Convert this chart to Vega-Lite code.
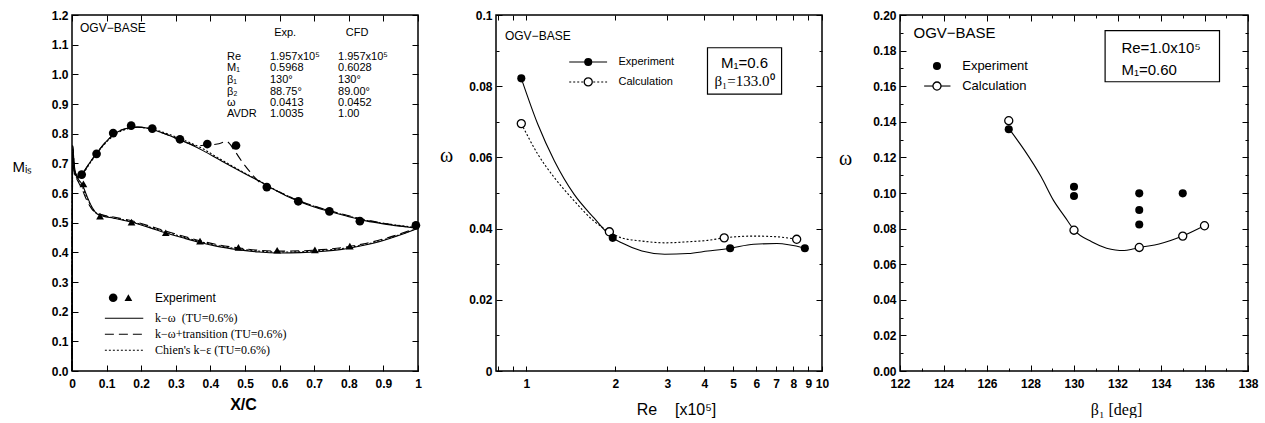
{
 "$schema": "https://vega.github.io/schema/vega-lite/v6.json",
 "padding": {"left": 11, "top": 8, "right": 0, "bottom": 0},
 "background": "white",
 "config": {
  "view": {"stroke": "black", "strokeWidth": 1.5},
  "axis": {"domain": false, "grid": false, "labelFont": "Liberation Sans", "labelFontWeight": "bold", "labelFontSize": 12, "labelColor": "black", "tickColor": "black", "tickWidth": 1, "titleColor": "black", "titleFont": "Liberation Sans", "labelFlush": false, "labelOverlap": false},
  "text": {"font": "Liberation Sans", "color": "black"}
 },
 "datasets": {
  "p1_cfd": [
   {"model":"kw","side":"S","x":0,"m":0},{"model":"kw","side":"S","x":0.002,"m":0.76},{"model":"kw","side":"S","x":0.006,"m":0.70},{"model":"kw","side":"S","x":0.012,"m":0.662},{"model":"kw","side":"S","x":0.02,"m":0.652},{"model":"kw","side":"S","x":0.03,"m":0.665},{"model":"kw","side":"S","x":0.05,"m":0.70},{"model":"kw","side":"S","x":0.07,"m":0.732},{"model":"kw","side":"S","x":0.1,"m":0.775},{"model":"kw","side":"S","x":0.13,"m":0.805},{"model":"kw","side":"S","x":0.16,"m":0.818},{"model":"kw","side":"S","x":0.19,"m":0.822},{"model":"kw","side":"S","x":0.22,"m":0.818},{"model":"kw","side":"S","x":0.26,"m":0.803},{"model":"kw","side":"S","x":0.3,"m":0.785},{"model":"kw","side":"S","x":0.34,"m":0.765},{"model":"kw","side":"S","x":0.38,"m":0.742},{"model":"kw","side":"S","x":0.42,"m":0.716},{"model":"kw","side":"S","x":0.46,"m":0.69},{"model":"kw","side":"S","x":0.5,"m":0.665},{"model":"kw","side":"S","x":0.54,"m":0.641},{"model":"kw","side":"S","x":0.58,"m":0.614},{"model":"kw","side":"S","x":0.62,"m":0.59},{"model":"kw","side":"S","x":0.66,"m":0.57},{"model":"kw","side":"S","x":0.7,"m":0.553},{"model":"kw","side":"S","x":0.75,"m":0.536},{"model":"kw","side":"S","x":0.8,"m":0.52},{"model":"kw","side":"S","x":0.85,"m":0.506},{"model":"kw","side":"S","x":0.9,"m":0.496},{"model":"kw","side":"S","x":0.95,"m":0.488},{"model":"kw","side":"S","x":1.0,"m":0.481},
   {"model":"kwt","side":"S","x":0,"m":0},{"model":"kwt","side":"S","x":0.002,"m":0.76},{"model":"kwt","side":"S","x":0.006,"m":0.70},{"model":"kwt","side":"S","x":0.012,"m":0.662},{"model":"kwt","side":"S","x":0.02,"m":0.652},{"model":"kwt","side":"S","x":0.03,"m":0.665},{"model":"kwt","side":"S","x":0.05,"m":0.70},{"model":"kwt","side":"S","x":0.07,"m":0.732},{"model":"kwt","side":"S","x":0.1,"m":0.775},{"model":"kwt","side":"S","x":0.13,"m":0.805},{"model":"kwt","side":"S","x":0.16,"m":0.818},{"model":"kwt","side":"S","x":0.19,"m":0.822},{"model":"kwt","side":"S","x":0.22,"m":0.818},{"model":"kwt","side":"S","x":0.26,"m":0.803},{"model":"kwt","side":"S","x":0.3,"m":0.785},{"model":"kwt","side":"S","x":0.34,"m":0.766},{"model":"kwt","side":"S","x":0.36,"m":0.759},{"model":"kwt","side":"S","x":0.39,"m":0.762},{"model":"kwt","side":"S","x":0.42,"m":0.765},{"model":"kwt","side":"S","x":0.447,"m":0.773},{"model":"kwt","side":"S","x":0.47,"m":0.742},{"model":"kwt","side":"S","x":0.49,"m":0.708},{"model":"kwt","side":"S","x":0.514,"m":0.672},{"model":"kwt","side":"S","x":0.543,"m":0.635},{"model":"kwt","side":"S","x":0.57,"m":0.618},{"model":"kwt","side":"S","x":0.6,"m":0.603},{"model":"kwt","side":"S","x":0.62,"m":0.592},{"model":"kwt","side":"S","x":0.66,"m":0.572},{"model":"kwt","side":"S","x":0.7,"m":0.556},{"model":"kwt","side":"S","x":0.75,"m":0.539},{"model":"kwt","side":"S","x":0.8,"m":0.523},{"model":"kwt","side":"S","x":0.85,"m":0.509},{"model":"kwt","side":"S","x":0.9,"m":0.498},{"model":"kwt","side":"S","x":0.95,"m":0.489},{"model":"kwt","side":"S","x":1.0,"m":0.482},
   {"model":"chien","side":"S","x":0,"m":0},{"model":"chien","side":"S","x":0.002,"m":0.75},{"model":"chien","side":"S","x":0.006,"m":0.69},{"model":"chien","side":"S","x":0.012,"m":0.658},{"model":"chien","side":"S","x":0.02,"m":0.65},{"model":"chien","side":"S","x":0.03,"m":0.662},{"model":"chien","side":"S","x":0.05,"m":0.697},{"model":"chien","side":"S","x":0.07,"m":0.73},{"model":"chien","side":"S","x":0.1,"m":0.772},{"model":"chien","side":"S","x":0.13,"m":0.802},{"model":"chien","side":"S","x":0.16,"m":0.816},{"model":"chien","side":"S","x":0.19,"m":0.821},{"model":"chien","side":"S","x":0.22,"m":0.818},{"model":"chien","side":"S","x":0.26,"m":0.806},{"model":"chien","side":"S","x":0.3,"m":0.789},{"model":"chien","side":"S","x":0.34,"m":0.77},{"model":"chien","side":"S","x":0.38,"m":0.748},{"model":"chien","side":"S","x":0.42,"m":0.72},{"model":"chien","side":"S","x":0.46,"m":0.693},{"model":"chien","side":"S","x":0.5,"m":0.667},{"model":"chien","side":"S","x":0.54,"m":0.642},{"model":"chien","side":"S","x":0.58,"m":0.615},{"model":"chien","side":"S","x":0.62,"m":0.592},{"model":"chien","side":"S","x":0.66,"m":0.572},{"model":"chien","side":"S","x":0.7,"m":0.555},{"model":"chien","side":"S","x":0.75,"m":0.538},{"model":"chien","side":"S","x":0.8,"m":0.522},{"model":"chien","side":"S","x":0.85,"m":0.508},{"model":"chien","side":"S","x":0.9,"m":0.498},{"model":"chien","side":"S","x":0.95,"m":0.49},{"model":"chien","side":"S","x":1.0,"m":0.483},
   {"model":"kw","side":"P","x":0,"m":0},{"model":"kw","side":"P","x":0.002,"m":0.72},{"model":"kw","side":"P","x":0.008,"m":0.67},{"model":"kw","side":"P","x":0.015,"m":0.652},{"model":"kw","side":"P","x":0.03,"m":0.628},{"model":"kw","side":"P","x":0.043,"m":0.59},{"model":"kw","side":"P","x":0.058,"m":0.552},{"model":"kw","side":"P","x":0.072,"m":0.53},{"model":"kw","side":"P","x":0.09,"m":0.522},{"model":"kw","side":"P","x":0.12,"m":0.515},{"model":"kw","side":"P","x":0.17,"m":0.502},{"model":"kw","side":"P","x":0.22,"m":0.485},{"model":"kw","side":"P","x":0.27,"m":0.466},{"model":"kw","side":"P","x":0.32,"m":0.449},{"model":"kw","side":"P","x":0.37,"m":0.433},{"model":"kw","side":"P","x":0.42,"m":0.42},{"model":"kw","side":"P","x":0.48,"m":0.409},{"model":"kw","side":"P","x":0.54,"m":0.401},{"model":"kw","side":"P","x":0.6,"m":0.398},{"model":"kw","side":"P","x":0.66,"m":0.399},{"model":"kw","side":"P","x":0.72,"m":0.403},{"model":"kw","side":"P","x":0.78,"m":0.41},{"model":"kw","side":"P","x":0.84,"m":0.423},{"model":"kw","side":"P","x":0.9,"m":0.44},{"model":"kw","side":"P","x":0.94,"m":0.455},{"model":"kw","side":"P","x":0.98,"m":0.472},{"model":"kw","side":"P","x":1.0,"m":0.481},
   {"model":"kwt","side":"P","x":0,"m":0},{"model":"kwt","side":"P","x":0.002,"m":0.70},{"model":"kwt","side":"P","x":0.008,"m":0.66},{"model":"kwt","side":"P","x":0.015,"m":0.645},{"model":"kwt","side":"P","x":0.03,"m":0.61},{"model":"kwt","side":"P","x":0.043,"m":0.575},{"model":"kwt","side":"P","x":0.058,"m":0.545},{"model":"kwt","side":"P","x":0.072,"m":0.533},{"model":"kwt","side":"P","x":0.09,"m":0.526},{"model":"kwt","side":"P","x":0.12,"m":0.519},{"model":"kwt","side":"P","x":0.17,"m":0.507},{"model":"kwt","side":"P","x":0.22,"m":0.49},{"model":"kwt","side":"P","x":0.27,"m":0.472},{"model":"kwt","side":"P","x":0.32,"m":0.455},{"model":"kwt","side":"P","x":0.37,"m":0.439},{"model":"kwt","side":"P","x":0.42,"m":0.426},{"model":"kwt","side":"P","x":0.48,"m":0.415},{"model":"kwt","side":"P","x":0.54,"m":0.407},{"model":"kwt","side":"P","x":0.6,"m":0.404},{"model":"kwt","side":"P","x":0.66,"m":0.405},{"model":"kwt","side":"P","x":0.72,"m":0.409},{"model":"kwt","side":"P","x":0.78,"m":0.416},{"model":"kwt","side":"P","x":0.84,"m":0.428},{"model":"kwt","side":"P","x":0.9,"m":0.445},{"model":"kwt","side":"P","x":0.94,"m":0.459},{"model":"kwt","side":"P","x":0.98,"m":0.475},{"model":"kwt","side":"P","x":1.0,"m":0.482},
   {"model":"chien","side":"P","x":0,"m":0},{"model":"chien","side":"P","x":0.002,"m":0.71},{"model":"chien","side":"P","x":0.008,"m":0.665},{"model":"chien","side":"P","x":0.015,"m":0.648},{"model":"chien","side":"P","x":0.03,"m":0.62},{"model":"chien","side":"P","x":0.043,"m":0.585},{"model":"chien","side":"P","x":0.058,"m":0.55},{"model":"chien","side":"P","x":0.072,"m":0.531},{"model":"chien","side":"P","x":0.09,"m":0.524},{"model":"chien","side":"P","x":0.12,"m":0.517},{"model":"chien","side":"P","x":0.17,"m":0.504},{"model":"chien","side":"P","x":0.22,"m":0.487},{"model":"chien","side":"P","x":0.27,"m":0.469},{"model":"chien","side":"P","x":0.32,"m":0.452},{"model":"chien","side":"P","x":0.37,"m":0.436},{"model":"chien","side":"P","x":0.42,"m":0.423},{"model":"chien","side":"P","x":0.48,"m":0.412},{"model":"chien","side":"P","x":0.54,"m":0.404},{"model":"chien","side":"P","x":0.6,"m":0.401},{"model":"chien","side":"P","x":0.66,"m":0.402},{"model":"chien","side":"P","x":0.72,"m":0.406},{"model":"chien","side":"P","x":0.78,"m":0.413},{"model":"chien","side":"P","x":0.84,"m":0.425},{"model":"chien","side":"P","x":0.9,"m":0.442},{"model":"chien","side":"P","x":0.94,"m":0.457},{"model":"chien","side":"P","x":0.98,"m":0.473},{"model":"chien","side":"P","x":1.0,"m":0.482}
  ],
  "p1_exp": [
   {"side":"S","x":0.028,"m":0.662},{"side":"S","x":0.071,"m":0.732},{"side":"S","x":0.119,"m":0.802},{"side":"S","x":0.171,"m":0.827},{"side":"S","x":0.232,"m":0.817},{"side":"S","x":0.312,"m":0.781},{"side":"S","x":0.391,"m":0.765},{"side":"S","x":0.474,"m":0.76},{"side":"S","x":0.563,"m":0.62},{"side":"S","x":0.654,"m":0.572},{"side":"S","x":0.744,"m":0.538},{"side":"S","x":0.832,"m":0.505},{"side":"S","x":0.994,"m":0.491},
   {"side":"P","x":0.033,"m":0.631},{"side":"P","x":0.081,"m":0.522},{"side":"P","x":0.172,"m":0.502},{"side":"P","x":0.271,"m":0.466},{"side":"P","x":0.37,"m":0.438},{"side":"P","x":0.481,"m":0.417},{"side":"P","x":0.593,"m":0.407},{"side":"P","x":0.702,"m":0.408},{"side":"P","x":0.803,"m":0.421}
  ],
  "p1_tab": [
   {"k":"Re","e":"1.957x10⁵","c":"1.957x10⁵","m":1.058},
   {"k":"M₁","e":"0.5968","c":"0.6028","m":1.02},
   {"k":"β₁","e":"130°","c":"130°","m":0.981},
   {"k":"β₂","e":"88.75°","c":"89.00°","m":0.942},
   {"k":"ω","e":"0.0413","c":"0.0452","m":0.903},
   {"k":"AVDR","e":"1.0035","c":"1.00","m":0.865}
  ],
  "p2_curve": [
   {"s":"exp","re":0.962,"w":0.0822},{"s":"exp","re":1.094,"w":0.0693},{"s":"exp","re":1.245,"w":0.059},{"s":"exp","re":1.452,"w":0.0496},{"s":"exp","re":1.694,"w":0.043},{"s":"exp","re":1.96,"w":0.0374},{"s":"exp","re":2.1,"w":0.036},{"s":"exp","re":2.46,"w":0.0337},{"s":"exp","re":2.94,"w":0.0328},{"s":"exp","re":3.52,"w":0.033},{"s":"exp","re":4.11,"w":0.0337},{"s":"exp","re":4.89,"w":0.0345},{"s":"exp","re":5.88,"w":0.0356},{"s":"exp","re":7.04,"w":0.0358},{"s":"exp","re":8.75,"w":0.0345},
   {"s":"calc","re":0.962,"w":0.0695},{"s":"calc","re":1.094,"w":0.0609},{"s":"calc","re":1.245,"w":0.0543},{"s":"calc","re":1.452,"w":0.0478},{"s":"calc","re":1.694,"w":0.0421},{"s":"calc","re":1.91,"w":0.0391},{"s":"calc","re":2.1,"w":0.0374},{"s":"calc","re":2.46,"w":0.0365},{"s":"calc","re":2.94,"w":0.036},{"s":"calc","re":3.52,"w":0.0363},{"s":"calc","re":4.11,"w":0.0367},{"s":"calc","re":4.67,"w":0.0374},{"s":"calc","re":5.88,"w":0.0379},{"s":"calc","re":7.04,"w":0.0377},{"s":"calc","re":8.21,"w":0.037}
  ],
  "p2_pts": [
   {"s":"exp","re":0.962,"w":0.0822},{"s":"exp","re":1.96,"w":0.0374},{"s":"exp","re":4.89,"w":0.0345},{"s":"exp","re":8.75,"w":0.0345},
   {"s":"calc","re":0.962,"w":0.0695},{"s":"calc","re":1.91,"w":0.0391},{"s":"calc","re":4.67,"w":0.0374},{"s":"calc","re":8.21,"w":0.037}
  ],
  "p3_exp": [
   {"b":127,"w":0.1358},{"b":130,"w":0.1035},{"b":130,"w":0.0983},{"b":133,"w":0.0998},{"b":133,"w":0.0904},{"b":133,"w":0.0823},{"b":135,"w":0.0998}
  ],
  "p3_calc": [
   {"b":127,"w":0.1406},{"b":130,"w":0.0791},{"b":133,"w":0.0694},{"b":135,"w":0.0758},{"b":136,"w":0.0816}
  ],
  "p3_curve": [
   {"b":127.0,"w":0.1363},{"b":127.72,"w":0.1241},{"b":128.49,"w":0.1091},{"b":129.05,"w":0.096},{"b":129.58,"w":0.0866},{"b":130.01,"w":0.0791},{"b":130.81,"w":0.0726},{"b":131.5,"w":0.069},{"b":131.9,"w":0.068},{"b":132.3,"w":0.0677},{"b":132.7,"w":0.0685},{"b":133.01,"w":0.0694},{"b":133.91,"w":0.0713},{"b":134.99,"w":0.0758},{"b":135.99,"w":0.0816}
  ]
 },
 "bounds": "flush",
 "spacing": 78,
 "hconcat": [
  {
   "width": 346, "height": 356,
   "resolve": {"axis": {"x": "independent", "y": "independent"}},
   "layer": [
    {
     "data": {"name": "p1_cfd"},
     "transform": [{"filter": "datum.model == 'kw'"}],
     "mark": {"type": "line", "color": "black", "strokeWidth": 1.1, "interpolate": "monotone"},
     "encoding": {
      "x": {"field": "x", "type": "quantitative", "scale": {"domain": [0, 1], "nice": false, "zero": false},
            "axis": {"orient": "bottom", "values": [0,0.1,0.2,0.3,0.4,0.5,0.6,0.7,0.8,0.9,1], "labelExpr": "datum.value==0 ? '0' : datum.value==1 ? '1' : format(datum.value, '.1f')", "tickSize": -6, "labelPadding": 13, "title": "X/C", "titleFontSize": 16, "titleFontWeight": "bold", "titleX": 171, "titleY": 33, "titleAlign": "center", "titleBaseline": "middle"}},
      "y": {"field": "m", "type": "quantitative", "scale": {"domain": [0, 1.2], "nice": false, "zero": false},
            "axis": {"orient": "left", "values": [0,0.1,0.2,0.3,0.4,0.5,0.6,0.7,0.8,0.9,1.0,1.1,1.2], "format": ".1f", "tickSize": -6, "labelPadding": 10, "title": "Mᵢₛ", "titleAngle": 0, "titleFontSize": 15, "titleFontWeight": "normal", "titleX": -50, "titleY": 151, "titleAlign": "center", "titleBaseline": "middle"}},
      "detail": {"field": "side"}
     }
    },
    {
     "data": {"name": "p1_cfd"},
     "transform": [{"filter": "datum.model == 'kwt'"}],
     "mark": {"type": "line", "color": "black", "strokeWidth": 1.1, "interpolate": "monotone", "strokeDash": [9, 5]},
     "encoding": {
      "x": {"field": "x", "type": "quantitative", "axis": null},
      "y": {"field": "m", "type": "quantitative", "axis": null},
      "detail": {"field": "side"}
     }
    },
    {
     "data": {"name": "p1_cfd"},
     "transform": [{"filter": "datum.model == 'chien'"}],
     "mark": {"type": "line", "color": "black", "strokeWidth": 1.1, "interpolate": "monotone", "strokeDash": [2, 2]},
     "encoding": {
      "x": {"field": "x", "type": "quantitative", "axis": null},
      "y": {"field": "m", "type": "quantitative", "axis": null},
      "detail": {"field": "side"}
     }
    },
    {
     "data": {"name": "p1_exp"},
     "transform": [{"filter": "datum.side == 'S'"}],
     "mark": {"type": "circle", "color": "black", "opacity": 1, "size": 75},
     "encoding": {
      "x": {"field": "x", "type": "quantitative", "axis": {"orient": "top", "values": [0,0.1,0.2,0.3,0.4,0.5,0.6,0.7,0.8,0.9,1], "labels": false, "tickSize": -6, "title": null}},
      "y": {"field": "m", "type": "quantitative", "axis": {"orient": "right", "values": [0,0.1,0.2,0.3,0.4,0.5,0.6,0.7,0.8,0.9,1.0,1.1,1.2], "labels": false, "tickSize": -6, "title": null}}
     }
    },
    {
     "data": {"name": "p1_exp"},
     "transform": [{"filter": "datum.side == 'P'"}],
     "mark": {"type": "point", "shape": "triangle-up", "filled": true, "color": "black", "opacity": 1, "size": 60},
     "encoding": {
      "x": {"field": "x", "type": "quantitative", "axis": null},
      "y": {"field": "m", "type": "quantitative", "axis": null}
     }
    },
    {
     "data": {"name": "p1_tab"},
     "mark": {"type": "text", "align": "left", "baseline": "middle", "fontSize": 11},
     "encoding": {"x": {"datum": 0.448, "axis": null}, "y": {"field": "m", "type": "quantitative", "axis": null}, "text": {"field": "k"}}
    },
    {
     "data": {"name": "p1_tab"},
     "mark": {"type": "text", "align": "left", "baseline": "middle", "fontSize": 11},
     "encoding": {"x": {"datum": 0.572, "axis": null}, "y": {"field": "m", "type": "quantitative", "axis": null}, "text": {"field": "e"}}
    },
    {
     "data": {"name": "p1_tab"},
     "mark": {"type": "text", "align": "left", "baseline": "middle", "fontSize": 11},
     "encoding": {"x": {"datum": 0.769, "axis": null}, "y": {"field": "m", "type": "quantitative", "axis": null}, "text": {"field": "c"}}
    },
    {
     "data": {"values": [{}]},
     "mark": {"type": "text", "align": "center", "baseline": "middle", "fontSize": 11, "text": "Exp."},
     "encoding": {"x": {"datum": 0.616, "axis": null}, "y": {"datum": 1.139, "axis": null}}
    },
    {
     "data": {"values": [{}]},
     "mark": {"type": "text", "align": "center", "baseline": "middle", "fontSize": 11, "text": "CFD"},
     "encoding": {"x": {"datum": 0.824, "axis": null}, "y": {"datum": 1.139, "axis": null}}
    },
    {
     "data": {"values": [{}]},
     "mark": {"type": "text", "align": "left", "baseline": "middle", "fontSize": 12, "text": "OGV−BASE"},
     "encoding": {"x": {"datum": 0.023, "axis": null}, "y": {"datum": 1.156, "axis": null}}
    },
    {
     "data": {"values": [{}]},
     "mark": {"type": "circle", "color": "black", "opacity": 1, "size": 75},
     "encoding": {"x": {"datum": 0.119, "axis": null}, "y": {"datum": 0.247, "axis": null}}
    },
    {
     "data": {"values": [{}]},
     "mark": {"type": "point", "shape": "triangle-up", "filled": true, "color": "black", "opacity": 1, "size": 60},
     "encoding": {"x": {"datum": 0.163, "axis": null}, "y": {"datum": 0.247, "axis": null}}
    },
    {
     "data": {"values": [{}]},
     "mark": {"type": "text", "align": "left", "baseline": "middle", "fontSize": 12, "text": "Experiment"},
     "encoding": {"x": {"datum": 0.24, "axis": null}, "y": {"datum": 0.247, "axis": null}}
    },
    {
     "data": {"values": [{}]},
     "mark": {"type": "rule", "color": "black", "strokeWidth": 1.1},
     "encoding": {"x": {"datum": 0.095, "axis": null}, "x2": {"datum": 0.206}, "y": {"datum": 0.178, "axis": null}}
    },
    {
     "data": {"values": [{}]},
     "mark": {"type": "rule", "color": "black", "strokeWidth": 1.1, "strokeDash": [9, 5]},
     "encoding": {"x": {"datum": 0.095, "axis": null}, "x2": {"datum": 0.206}, "y": {"datum": 0.124, "axis": null}}
    },
    {
     "data": {"values": [{}]},
     "mark": {"type": "rule", "color": "black", "strokeWidth": 1.1, "strokeDash": [2, 2]},
     "encoding": {"x": {"datum": 0.095, "axis": null}, "x2": {"datum": 0.206}, "y": {"datum": 0.07, "axis": null}}
    },
    {
     "data": {"values": [{}]},
     "mark": {"type": "text", "align": "left", "baseline": "middle", "fontSize": 12, "font": "Liberation Serif", "text": "k−ω\u00a0\u00a0(TU=0.6%)"},
     "encoding": {"x": {"datum": 0.24, "axis": null}, "y": {"datum": 0.178, "axis": null}}
    },
    {
     "data": {"values": [{}]},
     "mark": {"type": "text", "align": "left", "baseline": "middle", "fontSize": 12, "font": "Liberation Serif", "text": "k−ω+transition (TU=0.6%)"},
     "encoding": {"x": {"datum": 0.24, "axis": null}, "y": {"datum": 0.124, "axis": null}}
    },
    {
     "data": {"values": [{}]},
     "mark": {"type": "text", "align": "left", "baseline": "middle", "fontSize": 12, "font": "Liberation Serif", "text": "Chien's k−ε (TU=0.6%)"},
     "encoding": {"x": {"datum": 0.24, "axis": null}, "y": {"datum": 0.07, "axis": null}}
    }
   ]
  },
  {
   "width": 326, "height": 356,
   "resolve": {"axis": {"x": "independent", "y": "independent"}},
   "layer": [
    {
     "data": {"name": "p2_curve"},
     "transform": [{"filter": "datum.s == 'exp'"}],
     "mark": {"type": "line", "color": "black", "strokeWidth": 1.1, "interpolate": "monotone"},
     "encoding": {
      "x": {"field": "re", "type": "quantitative", "scale": {"type": "log", "domain": [0.79, 10], "nice": false},
            "axis": {"orient": "bottom", "values": [0.8,0.9,1,2,3,4,5,6,7,8,9,10], "labelExpr": "datum.value < 1 ? '' : format(datum.value, 'd')", "tickSize": -5, "labelPadding": 12, "title": "Re\u00a0\u00a0\u00a0\u00a0[x10⁵]", "titleFontSize": 16, "titleFontWeight": "normal", "titleX": 180, "titleY": 38, "titleAlign": "center", "titleBaseline": "middle"}},
      "y": {"field": "w", "type": "quantitative", "scale": {"domain": [0, 0.1], "nice": false, "zero": false},
            "axis": {"orient": "left", "values": [0,0.01,0.02,0.03,0.04,0.05,0.06,0.07,0.08,0.09,0.1], "labelExpr": "round(datum.value*100) % 2 == 0 ? (datum.value == 0 ? '0' : datum.value > 0.099 ? '0.1' : format(datum.value, '.2f')) : ''", "tickSize": {"condition": {"test": "round(datum.value*100) % 2 == 0", "value": -6}, "value": -3}, "labelPadding": 10, "title": "ω", "titleFont": "Liberation Serif", "titleAngle": 0, "titleFontSize": 20, "titleFontWeight": "normal", "titleX": -50, "titleY": 140, "titleAlign": "center", "titleBaseline": "middle"}}
     }
    },
    {
     "data": {"name": "p2_curve"},
     "transform": [{"filter": "datum.s == 'calc'"}],
     "mark": {"type": "line", "color": "black", "strokeWidth": 1.1, "interpolate": "monotone", "strokeDash": [2, 2]},
     "encoding": {
      "x": {"field": "re", "type": "quantitative", "axis": null},
      "y": {"field": "w", "type": "quantitative", "axis": null}
     }
    },
    {
     "data": {"name": "p2_pts"},
     "transform": [{"filter": "datum.s == 'calc'"}],
     "mark": {"type": "point", "shape": "circle", "fill": "white", "stroke": "black", "strokeWidth": 1.3, "opacity": 1, "size": 65},
     "encoding": {
      "x": {"field": "re", "type": "quantitative", "axis": {"orient": "top", "values": [0.8,0.9,1,2,3,4,5,6,7,8,9,10], "labels": false, "tickSize": -5, "title": null}},
      "y": {"field": "w", "type": "quantitative", "axis": {"orient": "right", "values": [0,0.01,0.02,0.03,0.04,0.05,0.06,0.07,0.08,0.09,0.1], "labels": false, "tickSize": {"condition": {"test": "round(datum.value*100) % 2 == 0", "value": -6}, "value": -3}, "title": null}}
     }
    },
    {
     "data": {"name": "p2_pts"},
     "transform": [{"filter": "datum.s == 'exp'"}],
     "mark": {"type": "circle", "color": "black", "opacity": 1, "size": 65},
     "encoding": {
      "x": {"field": "re", "type": "quantitative", "axis": null},
      "y": {"field": "w", "type": "quantitative", "axis": null}
     }
    },
    {
     "data": {"values": [{}]},
     "mark": {"type": "text", "align": "left", "baseline": "middle", "fontSize": 12, "text": "OGV−BASE"},
     "encoding": {"x": {"datum": 0.847, "axis": null}, "y": {"datum": 0.0941, "axis": null}}
    },
    {
     "data": {"values": [{}]},
     "mark": {"type": "rule", "color": "black", "strokeWidth": 1.1},
     "encoding": {"x": {"datum": 1.397, "axis": null}, "x2": {"datum": 1.876}, "y": {"datum": 0.0868, "axis": null}}
    },
    {
     "data": {"values": [{}]},
     "mark": {"type": "circle", "color": "black", "opacity": 1, "size": 65},
     "encoding": {"x": {"datum": 1.62, "axis": null}, "y": {"datum": 0.0868, "axis": null}}
    },
    {
     "data": {"values": [{}]},
     "mark": {"type": "text", "align": "left", "baseline": "middle", "fontSize": 11, "text": "Experiment"},
     "encoding": {"x": {"datum": 2.05, "axis": null}, "y": {"datum": 0.0868, "axis": null}}
    },
    {
     "data": {"values": [{}]},
     "mark": {"type": "rule", "color": "black", "strokeWidth": 1.1, "strokeDash": [2, 2]},
     "encoding": {"x": {"datum": 1.397, "axis": null}, "x2": {"datum": 1.876}, "y": {"datum": 0.0812, "axis": null}}
    },
    {
     "data": {"values": [{}]},
     "mark": {"type": "point", "shape": "circle", "fill": "white", "stroke": "black", "strokeWidth": 1.3, "opacity": 1, "size": 65},
     "encoding": {"x": {"datum": 1.62, "axis": null}, "y": {"datum": 0.0812, "axis": null}}
    },
    {
     "data": {"values": [{}]},
     "mark": {"type": "text", "align": "left", "baseline": "middle", "fontSize": 11, "text": "Calculation"},
     "encoding": {"x": {"datum": 2.05, "axis": null}, "y": {"datum": 0.0812, "axis": null}}
    },
    {
     "data": {"values": [{}]},
     "mark": {"type": "rect", "fill": "white", "stroke": "black", "strokeWidth": 1.2},
     "encoding": {"x": {"datum": 4.1, "axis": null}, "x2": {"datum": 7.3}, "y": {"datum": 0.0778, "axis": null}, "y2": {"datum": 0.0908}}
    },
    {
     "data": {"values": [{}]},
     "mark": {"type": "text", "align": "center", "baseline": "middle", "fontSize": 15, "text": "M₁=0.6"},
     "encoding": {"x": {"datum": 5.47, "axis": null}, "y": {"datum": 0.0866, "axis": null}}
    },
    {
     "data": {"values": [{}]},
     "mark": {"type": "text", "align": "center", "baseline": "middle", "fontSize": 15, "font": "Liberation Serif", "text": "β₁=133.0⁰"},
     "encoding": {"x": {"datum": 5.47, "axis": null}, "y": {"datum": 0.0815, "axis": null}}
    }
   ]
  },
  {
   "width": 348, "height": 356,
   "resolve": {"axis": {"x": "independent", "y": "independent"}},
   "layer": [
    {
     "data": {"name": "p3_curve"},
     "mark": {"type": "line", "color": "black", "strokeWidth": 1.1, "interpolate": "monotone"},
     "encoding": {
      "x": {"field": "b", "type": "quantitative", "scale": {"domain": [122, 138], "nice": false, "zero": false},
            "axis": {"orient": "bottom", "values": [122,123,124,125,126,127,128,129,130,131,132,133,134,135,136,137,138], "labelExpr": "datum.value % 2 == 0 ? format(datum.value, 'd') : ''", "tickSize": {"condition": {"test": "datum.value % 2 == 0", "value": -6}, "value": -3}, "labelPadding": 13, "title": "β₁ [deg]", "titleFont": "Liberation Serif", "titleFontSize": 16, "titleFontWeight": "normal", "titleX": 216, "titleY": 38, "titleAlign": "center", "titleBaseline": "middle"}},
      "y": {"field": "w", "type": "quantitative", "scale": {"domain": [0, 0.2], "nice": false, "zero": false},
            "axis": {"orient": "left", "values": [0,0.01,0.02,0.03,0.04,0.05,0.06,0.07,0.08,0.09,0.1,0.11,0.12,0.13,0.14,0.15,0.16,0.17,0.18,0.19,0.2], "labelExpr": "round(datum.value*100) % 2 == 0 ? format(datum.value, '.2f') : ''", "tickSize": {"condition": {"test": "round(datum.value*100) % 2 == 0", "value": -6}, "value": -3}, "labelPadding": 10, "title": "ω", "titleFont": "Liberation Serif", "titleAngle": 0, "titleFontSize": 20, "titleFontWeight": "normal", "titleX": -55, "titleY": 143, "titleAlign": "center", "titleBaseline": "middle"}}
     }
    },
    {
     "data": {"name": "p3_calc"},
     "mark": {"type": "point", "shape": "circle", "fill": "white", "stroke": "black", "strokeWidth": 1.3, "opacity": 1, "size": 65},
     "encoding": {
      "x": {"field": "b", "type": "quantitative", "axis": {"orient": "top", "values": [122,123,124,125,126,127,128,129,130,131,132,133,134,135,136,137,138], "labels": false, "tickSize": {"condition": {"test": "datum.value % 2 == 0", "value": -6}, "value": -3}, "title": null}},
      "y": {"field": "w", "type": "quantitative", "axis": {"orient": "right", "values": [0,0.01,0.02,0.03,0.04,0.05,0.06,0.07,0.08,0.09,0.1,0.11,0.12,0.13,0.14,0.15,0.16,0.17,0.18,0.19,0.2], "labels": false, "tickSize": {"condition": {"test": "round(datum.value*100) % 2 == 0", "value": -6}, "value": -3}, "title": null}}
     }
    },
    {
     "data": {"name": "p3_exp"},
     "mark": {"type": "circle", "color": "black", "opacity": 1, "size": 65},
     "encoding": {
      "x": {"field": "b", "type": "quantitative", "axis": null},
      "y": {"field": "w", "type": "quantitative", "axis": null}
     }
    },
    {
     "data": {"values": [{}]},
     "mark": {"type": "text", "align": "left", "baseline": "middle", "fontSize": 15, "text": "OGV−BASE"},
     "encoding": {"x": {"datum": 122.62, "axis": null}, "y": {"datum": 0.1898, "axis": null}}
    },
    {
     "data": {"values": [{}]},
     "mark": {"type": "circle", "color": "black", "opacity": 1, "size": 65},
     "encoding": {"x": {"datum": 123.7, "axis": null}, "y": {"datum": 0.1714, "axis": null}}
    },
    {
     "data": {"values": [{}]},
     "mark": {"type": "text", "align": "left", "baseline": "middle", "fontSize": 13, "text": "Experiment"},
     "encoding": {"x": {"datum": 124.86, "axis": null}, "y": {"datum": 0.1714, "axis": null}}
    },
    {
     "data": {"values": [{}]},
     "mark": {"type": "rule", "color": "black", "strokeWidth": 1.1},
     "encoding": {"x": {"datum": 123.11, "axis": null}, "x2": {"datum": 124.32}, "y": {"datum": 0.1601, "axis": null}}
    },
    {
     "data": {"values": [{}]},
     "mark": {"type": "point", "shape": "circle", "fill": "white", "stroke": "black", "strokeWidth": 1.3, "opacity": 1, "size": 65},
     "encoding": {"x": {"datum": 123.7, "axis": null}, "y": {"datum": 0.1601, "axis": null}}
    },
    {
     "data": {"values": [{}]},
     "mark": {"type": "text", "align": "left", "baseline": "middle", "fontSize": 13, "text": "Calculation"},
     "encoding": {"x": {"datum": 124.86, "axis": null}, "y": {"datum": 0.1601, "axis": null}}
    },
    {
     "data": {"values": [{}]},
     "mark": {"type": "rect", "fill": "white", "stroke": "black", "strokeWidth": 1.2},
     "encoding": {"x": {"datum": 131.43, "axis": null}, "x2": {"datum": 136.69}, "y": {"datum": 0.1625, "axis": null}, "y2": {"datum": 0.1912}}
    },
    {
     "data": {"values": [{}]},
     "mark": {"type": "text", "align": "left", "baseline": "middle", "fontSize": 15, "text": "Re=1.0x10⁵"},
     "encoding": {"x": {"datum": 132.18, "axis": null}, "y": {"datum": 0.1813, "axis": null}}
    },
    {
     "data": {"values": [{}]},
     "mark": {"type": "text", "align": "left", "baseline": "middle", "fontSize": 15, "text": "M₁=0.60"},
     "encoding": {"x": {"datum": 132.18, "axis": null}, "y": {"datum": 0.1691, "axis": null}}
    }
   ]
  }
 ]
}
